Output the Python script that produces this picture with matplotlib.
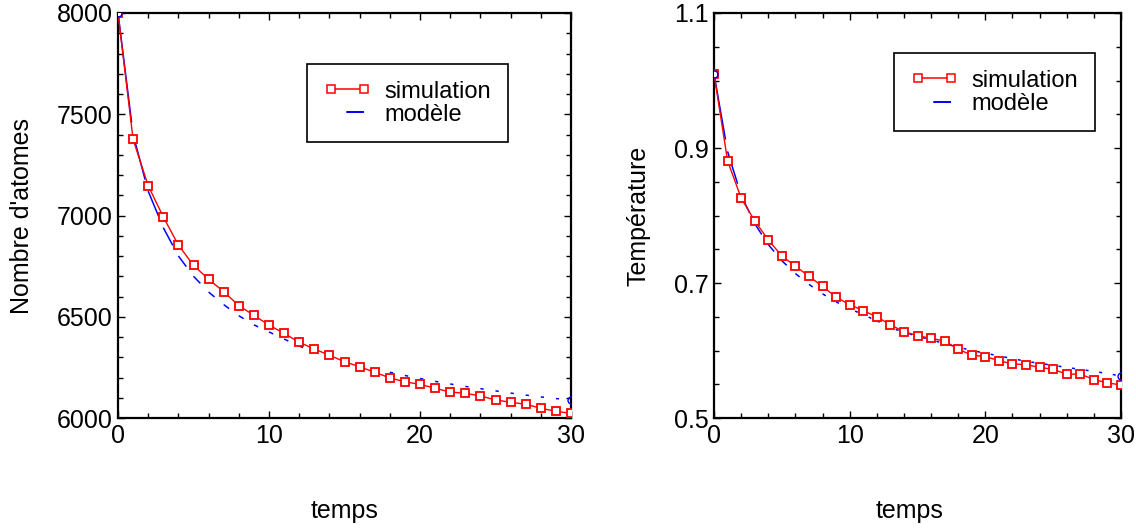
import numpy as np
import matplotlib
matplotlib.use("Agg")
import matplotlib.pyplot as plt
from matplotlib.lines import Line2D
from matplotlib.ticker import MultipleLocator, FixedLocator

plt.rcParams['font.family'] = ['Liberation Sans Narrow', 'Liberation Sans', 'DejaVu Sans']

temps = list(range(31))

atomes_simulation = [8000, 7376, 7147, 6993, 6854, 6754, 6685, 6624, 6555, 6507,
                     6459, 6418, 6374, 6341, 6310, 6278, 6253, 6226, 6198, 6179,
                     6166, 6147, 6128, 6122, 6109, 6089, 6078, 6068, 6048, 6033, 6023]
atomes_modele = [8000, 7400, 7120, 6940, 6800, 6700, 6622, 6560, 6505, 6460,
                 6425, 6390, 6355, 6328, 6300, 6277, 6260, 6243, 6226, 6210,
                 6195, 6181, 6168, 6156, 6145, 6134, 6123, 6113, 6104, 6096, 6089]

temp_simulation = [1.010, 0.881, 0.826, 0.792, 0.764, 0.740, 0.725, 0.710, 0.695, 0.679,
                   0.668, 0.659, 0.650, 0.638, 0.628, 0.622, 0.618, 0.614, 0.602, 0.593,
                   0.591, 0.585, 0.580, 0.579, 0.575, 0.572, 0.565, 0.565, 0.557, 0.552, 0.549]
temp_modele = [1.010, 0.895, 0.830, 0.788, 0.757, 0.733, 0.714, 0.698, 0.684, 0.672,
               0.662, 0.653, 0.644, 0.634, 0.627, 0.621, 0.616, 0.610, 0.605, 0.600,
               0.596, 0.592, 0.588, 0.584, 0.581, 0.578, 0.575, 0.572, 0.569, 0.566, 0.562]

temp_ticks = [0.5, 0.7, 0.9, 1.1]

ylabels = ["Nombre d'atomes", "Température"]
legend_labels = ["simulation", "modèle"]

FS = 18
LW = 1.1

fig = plt.figure(figsize=(11.36, 5.31), dpi=100)
ax1 = fig.add_axes([118 / 1136, 1 - 418 / 531, 453 / 1136, 405 / 531])
ax2 = fig.add_axes([714 / 1136, 1 - 418 / 531, 407 / 1136, 405 / 531])


def draw_model(ax, x, y):
    # each segment gets its own dash, gap at the end (like the original output)
    pts = ax.transData.transform(np.column_stack([x, y]))
    k = 72.0 / fig.dpi / LW  # px -> dash units (dashes scale with lw)
    for i in range(len(x) - 1):
        seg = np.hypot(*(pts[i + 1] - pts[i]))
        if seg - 12 > 3:
            on, start = seg - 12, 0.0
        else:
            on, start = 3.0, (seg - 3.0) / 2
        off = 200.0
        ls = ((on + off - start) * k, (on * k, off * k)) if start > 0 else (0, (on * k, off * k))
        ax.plot(x[i:i + 2], y[i:i + 2], color='blue', lw=LW, linestyle=ls, zorder=2)
    ax.plot([x[0], x[-1]], [y[0], y[-1]], linestyle='none', marker='o', ms=5,
            mfc='none', mec='blue', mew=1.0, zorder=4)


def setup(ax, ylim, ymin, fmt):
    ax.set_xlim(0, 30)
    ax.set_ylim(*ylim)
    ax.xaxis.set_major_locator(MultipleLocator(10))
    ax.xaxis.set_minor_locator(MultipleLocator(2))
    ax.yaxis.set_minor_locator(MultipleLocator(ymin))
    ax.yaxis.set_major_formatter(fmt)
    ax.tick_params(which='both', direction='in', top=True, right=True,
                   labelsize=FS, width=1)
    ax.tick_params(which='major', length=5, pad=4)
    ax.tick_params(which='minor', length=3.5)
    for s in ax.spines.values():
        s.set_linewidth(1.6)


ax1.yaxis.set_major_locator(MultipleLocator(500))
ax2.yaxis.set_major_locator(FixedLocator(temp_ticks))
setup(ax1, (6000, 8000), 100, lambda v, p: f"{v:.0f}")
setup(ax2, (0.5, 1.1), 0.05, lambda v, p: f"{v:.1f}")

for ax, sim, mod in [(ax1, atomes_simulation, atomes_modele), (ax2, temp_simulation, temp_modele)]:
    draw_model(ax, temps, mod)
    ax.plot(temps, sim, color='red', lw=1.0, marker='s', ms=5.6, mfc='white',
            mec='red', mew=1.3, zorder=3)

ax1.set_ylabel(ylabels[0], fontsize=FS)
ax2.set_ylabel(ylabels[1], fontsize=FS)
ax1.yaxis.set_label_coords(-0.185, 0.5)
ax2.yaxis.set_label_coords(-0.157, 0.5)
ax1.set_xlabel("temps", fontsize=FS)
ax2.set_xlabel("temps", fontsize=FS)
ax1.xaxis.set_label_coords(0.5, -0.2)
ax2.xaxis.set_label_coords(0.48, -0.2)

lw_leg = 1.4
handles = [Line2D([], [], color='red', lw=1.1, marker='s', ms=5.2, mfc='white', mec='red', mew=1.1),
           Line2D([], [], color='blue', lw=lw_leg,
                  linestyle=(33 / lw_leg, (24 / lw_leg, 20 / lw_leg)))]

for ax, anchor in [(ax1, (0.417, 0.874)), (ax2, (0.442, 0.901))]:
    leg = ax.legend(handles, legend_labels, loc='upper left', bbox_to_anchor=anchor,
                    fontsize=FS - 1, numpoints=2, handlelength=2.0, handletextpad=0.6,
                    borderpad=0.7, labelspacing=0.05, fancybox=False, framealpha=1,
                    borderaxespad=0)
    leg.get_frame().set_edgecolor('black')
    leg.get_frame().set_linewidth(1.2)

fig.savefig("out.png", dpi=100)
